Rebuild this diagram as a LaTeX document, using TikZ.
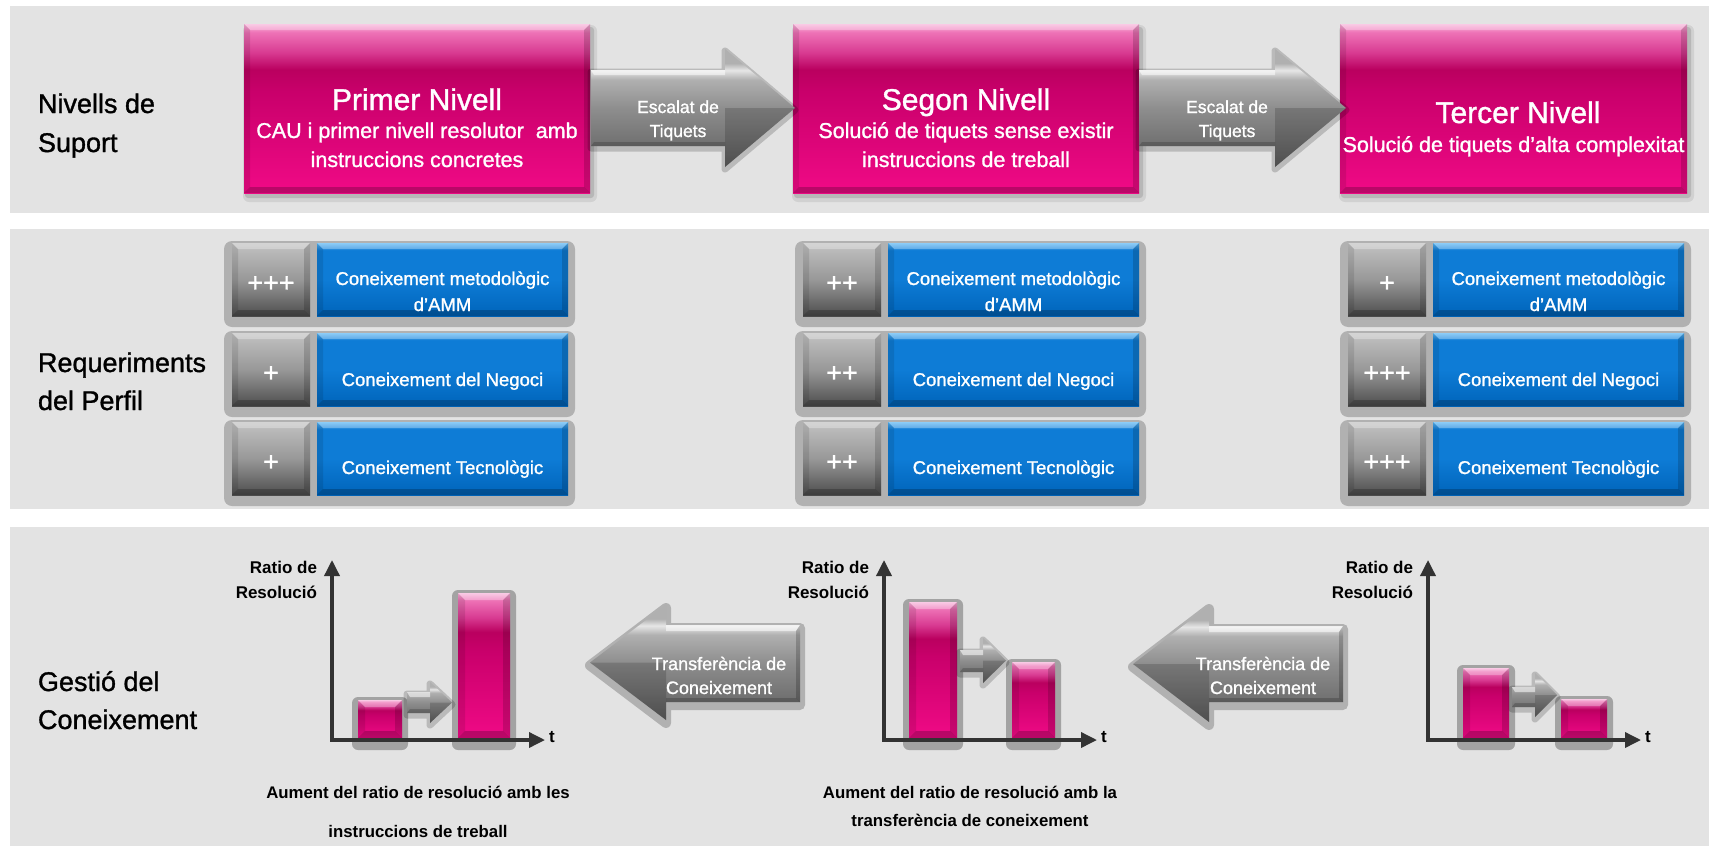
\documentclass[tikz,border=0pt]{standalone}
\usepackage{fontspec}
\setmainfont{Liberation Sans}
\newfontfamily\medf{Liberation Sans}[FakeBold=1.2]
\usetikzlibrary{arrows.meta}

\definecolor{bandbg}{HTML}{E3E3E3}
\definecolor{pinkH}{HTML}{F7B4DA}
\definecolor{pinkL}{HTML}{EE72B6}
\definecolor{pinkM}{HTML}{D83A91}
\definecolor{pinkD}{HTML}{BA005F}
\definecolor{pinkE}{HTML}{C9006B}
\definecolor{pinkB}{HTML}{F00A86}
\definecolor{blueH}{HTML}{5BB6F4}
\definecolor{blueM}{HTML}{0E7CD6}
\definecolor{blueB}{HTML}{0064BA}
\definecolor{gsqT}{HTML}{C2C2C2}
\definecolor{gsqM}{HTML}{989898}
\definecolor{gsqB}{HTML}{4E4E4E}
\definecolor{garT}{HTML}{E6E6E6}
\definecolor{garU}{HTML}{B0B0B0}
\definecolor{garM}{HTML}{8E8E8E}
\definecolor{garB}{HTML}{5E5E5E}
\definecolor{axiscol}{HTML}{333333}

\pgfdeclareverticalshading{pinkgrad}{100bp}{color(0bp)=(pinkB); color(25bp)=(pinkB); color(55bp)=(pinkE); color(61.5bp)=(pinkD); color(66.5bp)=(pinkM); color(72.5bp)=(pinkL); color(75bp)=(pinkH); color(100bp)=(pinkH)}
\pgfdeclareverticalshading{bluegrad}{100bp}{color(0bp)=(blueB); color(25bp)=(blueB); color(50bp)=(blueM); color(70bp)=(blueM); color(75bp)=(blueH); color(100bp)=(blueH)}
\pgfdeclareverticalshading{gsqgrad}{100bp}{color(0bp)=(gsqB); color(25bp)=(gsqB); color(50bp)=(gsqM); color(75bp)=(gsqT); color(100bp)=(gsqT)}
\pgfdeclareverticalshading{grayarrow}{100bp}{color(0bp)=(garB); color(25bp)=(garB); color(50bp)=(garM); color(62bp)=(garU); color(66bp)=(garT); color(69bp)=(garU); color(75bp)=(garU); color(100bp)=(garU)}

% bevel overlay on a box x1 y1 x2 y2 b
\newcommand\mybevel[5]{%
  \fill[white,opacity=0.30] (#1,#2) -- (#3,#2) -- ({#3-#5},{#2+#5}) -- ({#1+#5},{#2+#5}) -- cycle;
  \fill[black,opacity=0.10] (#1,#2) -- ({#1+#5},{#2+#5}) -- ({#1+#5},{#4-#5}) -- (#1,#4) -- cycle;
  \fill[black,opacity=0.16] (#3,#2) -- ({#3-#5},{#2+#5}) -- ({#3-#5},{#4-#5}) -- (#3,#4) -- cycle;
  \fill[black,opacity=0.22] (#1,#4) -- ({#1+#5},{#4-#5}) -- ({#3-#5},{#4-#5}) -- (#3,#4) -- cycle;
}
% shaded box with a named centre: name, shading, x1 y1 x2 y2
\newcommand\shadebox[6]{%
  \shade[shading=#2] (#3,#4) rectangle (#5,#6);
  \coordinate (#1) at ({(#3+#5)/2},{(#4+#6)/2});
}
\newcommand\boxshadow[4]{%
  \fill[black,opacity=0.08,rounded corners=6pt] ({#1-1},{#2+1}) rectangle ({#3+7},{#4+9});
  \fill[black,opacity=0.12,rounded corners=3pt] ({#1+1},{#2+3}) rectangle ({#3+4},{#4+5});
}
% pink bar of a chart: name x1 y1 x2 y2
\newcommand\pbar[5]{%
  \fill[black,opacity=0.28,rounded corners=6pt] ({#2-6},{#3-3}) rectangle ({#4+6},{#5+12});
  \shadebox{#1}{pinkgrad}{#2}{#3}{#4}{#5}
  \mybevel{#2}{#3}{#4}{#5}{7}
}
% right pointing block arrow: x1, head base x, tip x, body top, body bottom, head top, head bottom
\newcommand\myrarrow[7]{%
  \draw[black,opacity=0.18,line width=7pt,line join=round] (#1,{#4+2}) -- (#2,{#4+2}) -- (#2,{#6+2}) -- (#3,{(#6+#7)/2+2}) -- (#2,{#7+2}) -- (#2,{#5+2}) -- (#1,{#5+2}) -- cycle;
  \shade[shading=grayarrow] (#1,#4) -- (#2,#4) -- (#2,#6) -- (#3,{(#6+#7)/2}) -- (#2,#7) -- (#2,#5) -- (#1,#5) -- cycle;
  \fill[black,opacity=0.16] (#2,{(#6+#7)/2}) -- (#3,{(#6+#7)/2}) -- (#2,#7) -- cycle;
  \fill[white,opacity=0.55] (#1,#4) -- (#2,#4) -- (#2,{#4+5}) -- ({#1+3},{#4+5}) -- cycle;
  \fill[black,opacity=0.18] (#1,#5) -- (#2,#5) -- (#2,{#5-4}) -- ({#1+3},{#5-4}) -- cycle;
}
% left pointing block arrow: tip x, head base x, body end x, body top, body bottom, head top, head bottom
\newcommand\mylarrow[7]{%
  \draw[black,opacity=0.22,line width=10pt,line join=round] (#3,{#4+3}) -- (#2,{#4+3}) -- (#2,{#6+3}) -- (#1,{(#6+#7)/2+3}) -- (#2,{#7+3}) -- (#2,{#5+3}) -- (#3,{#5+3}) -- cycle;
  \shade[shading=grayarrow] (#3,#4) -- (#2,#4) -- (#2,#6) -- (#1,{(#6+#7)/2}) -- (#2,#7) -- (#2,#5) -- (#3,#5) -- cycle;
  \fill[black,opacity=0.16] (#2,{(#6+#7)/2}) -- (#1,{(#6+#7)/2}) -- (#2,#7) -- cycle;
  \fill[white,opacity=0.55] (#3,#4) -- (#2,#4) -- (#2,{#4+6}) -- ({#3-4},{#4+6}) -- cycle;
  \fill[black,opacity=0.2] (#3,#4) -- (#3,#5) -- ({#3-4},{#5-4}) -- ({#3-4},{#4+6}) -- cycle;
  \fill[black,opacity=0.18] (#3,#5) -- (#2,#5) -- (#2,{#5-4}) -- ({#3-4},{#5-4}) -- cycle;
}
% one requirement row: gx, top, plus text, tag
\newcommand\reqrow[4]{%
  \fill[black,opacity=0.22,rounded corners=8pt] ({#1-8},{#2-2}) rectangle ({#1+343},{#2+84});
  \shadebox{#4g}{gsqgrad}{#1}{#2}{#1+78}{#2+73}
  \mybevel{#1}{#2}{#1+78}{#2+73}{6}
  \shadebox{#4b}{bluegrad}{#1+85}{#2}{#1+336}{#2+73}
  \mybevel{#1+85}{#2}{#1+336}{#2+73}{6}
  \node[plustxt] (#4p) at ({#1+39},{#2+41}) {#3};
}

\tikzset{
  txt/.style={inner sep=0pt, outer sep=0pt, anchor=base},
  wtitle/.style={txt, text=white, font=\medf\fontsize{30}{36}\selectfont},
  wsub/.style={txt, text=white, font=\medf\fontsize{21.5}{26}\selectfont},
  wsmall/.style={txt, text=white, font=\medf\fontsize{17.5}{21}\selectfont},
  btext/.style={txt, text=white, font=\medf\fontsize{18.5}{22}\selectfont},
  wmid/.style={txt, text=white, font=\medf\fontsize{18}{22}\selectfont},
  plustxt/.style={inner sep=0pt, outer sep=0pt, text=white, font=\medf\fontsize{27}{32}\selectfont},
  sect/.style={txt, anchor=base west, text=black, font=\medf\fontsize{27}{32}\selectfont},
  capt/.style={txt, text=black, font=\bfseries\fontsize{16.8}{20}\selectfont},
  ratio/.style={txt, anchor=base east, text=black, font=\bfseries\fontsize{17}{20}\selectfont},
  tlab/.style={txt, anchor=base west, text=black, font=\bfseries\fontsize{17}{20}\selectfont},
  axisline/.style={draw=axiscol, line width=3.5pt, line join=miter, {Triangle[length=16pt,width=15pt]}-{Triangle[length=16pt,width=15pt]}},
}

\begin{document}
\begin{tikzpicture}[x=1pt,y=-1pt]
\useasboundingbox (0,0) rectangle (1709,846);
\fill[white] (0,0) rectangle (1709,846);
% bands
\fill[bandbg] (10,6) rectangle (1709,213);
\fill[bandbg] (10,229) rectangle (1709,509);
\fill[bandbg] (10,527) rectangle (1709,846);

% ---------- row 1 ----------
\node[sect] (s1a) at (38,113) {Nivells de};
\node[sect] (s1b) at (38,152) {Suport};

\boxshadow{244}{24}{590}{193}
\shadebox{p1}{pinkgrad}{244}{24}{590}{193}
\mybevel{244}{24}{590}{193}{6}
\boxshadow{793}{24}{1139}{193}
\shadebox{p2}{pinkgrad}{793}{24}{1139}{193}
\mybevel{793}{24}{1139}{193}{6}
\boxshadow{1340}{24}{1687}{193}
\shadebox{p3}{pinkgrad}{1340}{24}{1687}{193}
\mybevel{1340}{24}{1687}{193}{6}

\myrarrow{591}{725}{795}{70}{146}{49}{167}
\myrarrow{1139}{1275}{1346}{70}{146}{49}{167}

\node[wtitle] (p1t) at (417,110) {Primer Nivell};
\node[wsub] (p1s1) at (417,138) {CAU i primer nivell resolutor~ amb};
\node[wsub] (p1s2) at (417,167) {instruccions concretes};
\node[wtitle] (p2t) at (966,110) {Segon Nivell};
\node[wsub] (p2s1) at (966,138) {Solució de tiquets sense existir};
\node[wsub] (p2s2) at (966,167) {instruccions de treball};
\node[wtitle] (p3t) at (1518,123) {Tercer Nivell};
\node[wsub] (p3s1) at (1513.5,152) {Solució de tiquets d’alta complexitat};

\node[wsmall] (e1a) at (678,113) {Escalat de};
\node[wsmall] (e1b) at (678,137) {Tiquets};
\node[wsmall] (e2a) at (1227,113) {Escalat de};
\node[wsmall] (e2b) at (1227,137) {Tiquets};

% ---------- row 2 ----------
\node[sect] (s2a) at (38,372) {Requeriments};
\node[sect] (s2b) at (38,410) {del Perfil};

\reqrow{232}{243}{+++}{ga1}
\reqrow{232}{333}{+}{ga2}
\reqrow{232}{422}{+}{ga3}
\reqrow{803}{243}{++}{gb1}
\reqrow{803}{333}{++}{gb2}
\reqrow{803}{422}{++}{gb3}
\reqrow{1348}{243}{+}{gc1}
\reqrow{1348}{333}{+++}{gc2}
\reqrow{1348}{422}{+++}{gc3}

\node[btext] (ta1a) at (442.5,285) {Coneixement metodològic};
\node[btext] (ta1b) at (442.5,311) {d’AMM};
\node[btext] (ta2) at (442.5,386) {Coneixement del Negoci};
\node[btext] (ta3) at (442.5,474) {Coneixement Tecnològic};
\node[btext] (tb1a) at (1013.5,285) {Coneixement metodològic};
\node[btext] (tb1b) at (1013.5,311) {d’AMM};
\node[btext] (tb2) at (1013.5,386) {Coneixement del Negoci};
\node[btext] (tb3) at (1013.5,474) {Coneixement Tecnològic};
\node[btext] (tc1a) at (1558.5,285) {Coneixement metodològic};
\node[btext] (tc1b) at (1558.5,311) {d’AMM};
\node[btext] (tc2) at (1558.5,386) {Coneixement del Negoci};
\node[btext] (tc3) at (1558.5,474) {Coneixement Tecnològic};

% ---------- row 3 ----------
\node[sect] (s3a) at (38,691) {Gestió del};
\node[sect] (s3b) at (38,729) {Coneixement};

% chart 1
\pbar{b11}{358}{700}{402}{738}
\pbar{b12}{458}{593}{510}{738}
\myrarrow{407}{430}{452}{692}{713}{682}{723}
\coordinate (c1o) at (332,740);
\coordinate (c1y) at (332,560);
\coordinate (c1x) at (545,740);
\draw[axisline] (c1y) -- (c1o) -- (c1x);
\node[ratio] (c1r1) at (317,573) {Ratio de};
\node[ratio] (c1r2) at (317,598) {Resolució};
\node[tlab] (c1t) at (549,742) {t};

% chart 2
\pbar{b21}{909}{602}{957}{738}
\pbar{b22}{1012}{662}{1055}{738}
\myrarrow{960}{983}{1006}{650}{672}{638}{683}
\coordinate (c2o) at (884,740);
\coordinate (c2y) at (884,560);
\coordinate (c2x) at (1097,740);
\draw[axisline] (c2y) -- (c2o) -- (c2x);
\node[ratio] (c2r1) at (869,573) {Ratio de};
\node[ratio] (c2r2) at (869,598) {Resolució};
\node[tlab] (c2t) at (1101,742) {t};

% chart 3
\pbar{b31}{1463}{668}{1509}{738}
\pbar{b32}{1561}{699}{1607}{738}
\myrarrow{1512}{1535}{1557}{687}{707}{673}{717}
\coordinate (c3o) at (1428,740);
\coordinate (c3y) at (1428,560);
\coordinate (c3x) at (1641,740);
\draw[axisline] (c3y) -- (c3o) -- (c3x);
\node[ratio] (c3r1) at (1413,573) {Ratio de};
\node[ratio] (c3r2) at (1413,598) {Resolució};
\node[tlab] (c3t) at (1645,742) {t};

% transfer arrows
\mylarrow{590}{666}{800}{625}{702}{605}{720}
\mylarrow{1133}{1209}{1343}{626}{702}{606}{722}
\node[wmid] (tr1a) at (719,670) {Transferència de};
\node[wmid] (tr1b) at (719,694) {Coneixement};
\node[wmid] (tr2a) at (1263,670) {Transferència de};
\node[wmid] (tr2b) at (1263,694) {Coneixement};

% captions
\node[capt] (cap1a) at (418,798) {Aument del ratio de resolució amb les};
\node[capt] (cap1b) at (418,837) {instruccions de treball};
\node[capt] (cap2a) at (970,798) {Aument del ratio de resolució amb la};
\node[capt] (cap2b) at (970,826) {transferència de coneixement};
\end{tikzpicture}
\end{document}
